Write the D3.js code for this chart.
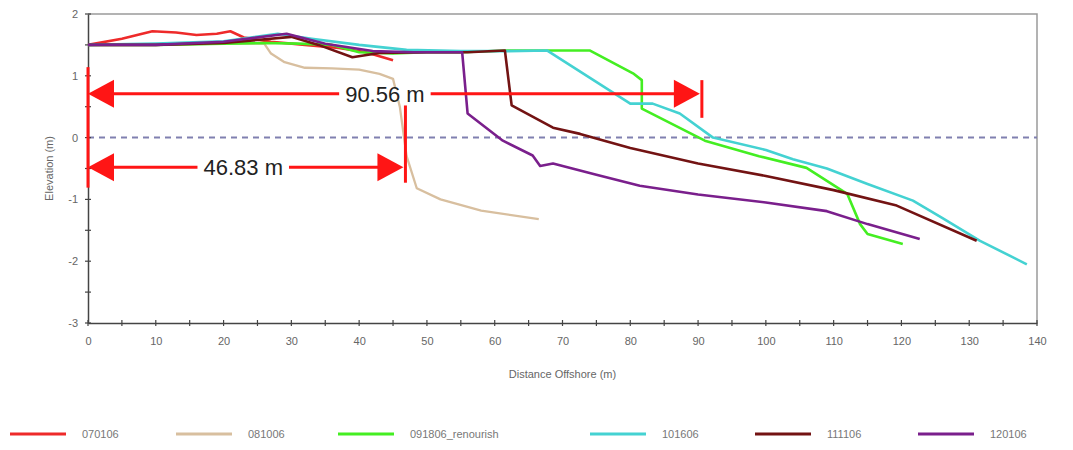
<!DOCTYPE html>
<html>
<head>
<meta charset="utf-8">
<script src="https://cdn.jsdelivr.net/npm/d3@7"></script>
<style>
  html, body { margin: 0; padding: 0; background: #fff; }
  svg { display: block; font-family: "Liberation Sans", Arial, sans-serif; }
</style>
</head>
<body>
<svg id="chart" width="1073" height="450"></svg>
<script>
// Beach profile surveys: [distance offshore (m), elevation (m)]
const survey070106 = [[0,1.5],[5,1.6],[9.5,1.72],[13,1.7],[16,1.66],[19,1.68],[21,1.72],[23,1.62],[27,1.55],[32,1.5],[37,1.45],[41,1.38],[45,1.25]];
const survey081006 = [[0,1.5],[10,1.5],[20,1.52],[26,1.52],[27,1.36],[29,1.22],[32,1.13],[36,1.12],[40,1.1],[43,1.03],[45,0.95],[46,0.5],[47,-0.3],[48.5,-0.82],[52,-1.0],[58,-1.18],[66.5,-1.32]];
const survey091806 = [[0,1.5],[10,1.5],[20,1.52],[26,1.53],[31,1.52],[36,1.5],[40,1.38],[45,1.36],[50,1.38],[55,1.38],[61.8,1.41],[74,1.41],[80.4,1.04],[81.7,0.93],[81.7,0.47],[91,-0.05],[99,-0.3],[106,-0.49],[112,-0.91],[113.9,-1.4],[115,-1.56],[120.2,-1.72]];
const survey101606 = [[0,1.5],[10,1.52],[20,1.56],[28,1.68],[33,1.6],[40,1.5],[47,1.42],[55,1.4],[62,1.4],[67.7,1.41],[80,0.55],[83.3,0.55],[87.3,0.39],[92.2,0.0],[100,-0.2],[104,-0.35],[109,-0.5],[115,-0.75],[121.7,-1.02],[126,-1.3],[131.6,-1.67],[138.5,-2.05]];
const survey111106 = [[0,1.5],[10,1.5],[20,1.53],[30,1.63],[34,1.5],[39,1.3],[43,1.37],[50,1.38],[56,1.38],[61.5,1.41],[62.5,0.52],[68.6,0.16],[72.6,0.06],[80,-0.17],[90,-0.42],[100,-0.62],[110,-0.85],[119.3,-1.1],[131.1,-1.67]];
const survey120106 = [[0,1.5],[10,1.5],[20,1.55],[29.3,1.68],[35,1.52],[42,1.4],[48,1.38],[55.2,1.38],[56,0.39],[61.2,-0.05],[65.6,-0.29],[66.7,-0.46],[68.6,-0.42],[75,-0.6],[81.4,-0.78],[90,-0.92],[100,-1.05],[109,-1.19],[115,-1.4],[122.7,-1.64]];

const seriesNames = ["070106", "081006", "091806_renourish", "101606", "111106", "120106"];
const seriesData = [survey070106, survey081006, survey091806, survey101606, survey111106, survey120106];
const seriesColors = ["#ee2a2a", "#d8bf9f", "#44ee22", "#44d2d2", "#731313", "#7a1f8c"];
const seriesWidths = [2.6, 2.3, 2.6, 2.6, 2.6, 2.6];

// Axis ticks
const xTicks = [0, 10, 20, 30, 40, 50, 60, 70, 80, 90, 100, 110, 120, 130, 140];
const xMinorTicks = d3.range(0, 141, 5);
const yTicks = [-3, -2, -1, 0, 1, 2];
const yMinorTicks = d3.range(-3, 2.01, 0.5);

// Shoreline distance measurements
const spanLabels = ["90.56 m", "46.83 m"];
const spanDistances = [90.56, 46.83];
const spanElevations = [0.71, -0.48];
const spanLabelCenters = [43.8, 22.9];
const spanBarTops = [0.93, 0.52];
const spanBarBottoms = [0.32, -0.73];

const svg = d3.select("#chart");
const plotLeft = 88, plotRight = 1037, plotTop = 14, plotBottom = 323;

const x = d3.scaleLinear().domain([0, 140]).range([plotLeft, plotRight]);
const y = d3.scaleLinear().domain([-3, 2]).range([plotBottom, plotTop]);

// Frame (top and right)
svg.append("path")
  .attr("d", `M${plotLeft},${plotTop}H${plotRight}V${plotBottom}`)
  .attr("fill", "none").attr("stroke", "#9a9a9a").attr("stroke-width", 1.5);

// Zero elevation reference
svg.append("line")
  .attr("x1", x(0)).attr("x2", x(140)).attr("y1", y(0)).attr("y2", y(0))
  .attr("stroke", "#8080b0").attr("stroke-width", 2).attr("stroke-dasharray", "6,5");

// Axes
const plainNumber = d => String(d);
const xAxis = d3.axisBottom(x).tickValues(xTicks).tickFormat(plainNumber).tickSize(0).tickPadding(14);
const yAxis = d3.axisLeft(y).tickValues(yTicks).tickFormat(plainNumber).tickSize(0).tickPadding(10);

const gx = svg.append("g").attr("transform", `translate(0,${plotBottom})`).call(xAxis);
const gy = svg.append("g").attr("transform", `translate(${plotLeft},0)`).call(yAxis);
[gx, gy].forEach(g => {
  g.select(".domain").attr("stroke", "#444").attr("stroke-width", 1.5);
  g.selectAll("text").attr("fill", "#666").style("font-size", "11px");
});

svg.append("g").selectAll("line").data(xMinorTicks).join("line")
  .attr("x1", d => x(d)).attr("x2", d => x(d))
  .attr("y1", plotBottom - 3).attr("y2", plotBottom + 3)
  .attr("stroke", "#444").attr("stroke-width", 1.2);
svg.append("g").selectAll("line").data(yMinorTicks).join("line")
  .attr("x1", plotLeft - 3).attr("x2", plotLeft + 3)
  .attr("y1", d => y(d)).attr("y2", d => y(d))
  .attr("stroke", "#444").attr("stroke-width", 1.2);

// Axis titles
svg.append("text")
  .attr("x", (plotLeft + plotRight) / 2).attr("y", 378)
  .attr("text-anchor", "middle").attr("fill", "#666").style("font-size", "11px")
  .text("Distance Offshore (m)");
svg.append("text")
  .attr("transform", `translate(53,${(plotTop + plotBottom) / 2}) rotate(-90)`)
  .attr("text-anchor", "middle").attr("fill", "#666").style("font-size", "11px")
  .text("Elevation (m)");

// Profile lines
const line = d3.line().x(d => x(d[0])).y(d => y(d[1]));
svg.append("g").selectAll("path").data(seriesData).join("path")
  .attr("d", line)
  .attr("fill", "none")
  .attr("stroke", (d, i) => seriesColors[i])
  .attr("stroke-width", (d, i) => seriesWidths[i])
  .attr("stroke-linejoin", "round");

// Distance measurement arrows
const red = "#ff1515";
const ann = svg.append("g");
ann.append("line")
  .attr("x1", x(0)).attr("x2", x(0)).attr("y1", y(1.14)).attr("y2", y(-0.81))
  .attr("stroke", red).attr("stroke-width", 3);

spanLabels.forEach((label, i) => {
  const yy = y(spanElevations[i]);
  const x0 = x(0), x1 = x(spanDistances[i]);
  ann.append("line")
    .attr("x1", x0 + 20).attr("x2", x1 - 20).attr("y1", yy).attr("y2", yy)
    .attr("stroke", red).attr("stroke-width", 3);
  ann.append("path")
    .attr("d", `M${x0},${yy}L${x0 + 26},${yy - 14}L${x0 + 26},${yy + 14}Z`)
    .attr("fill", red);
  ann.append("path")
    .attr("d", `M${x1 - 2},${yy}L${x1 - 28},${yy - 14}L${x1 - 28},${yy + 14}Z`)
    .attr("fill", red);
  ann.append("line")
    .attr("x1", x1).attr("x2", x1).attr("y1", y(spanBarTops[i])).attr("y2", y(spanBarBottoms[i]))
    .attr("stroke", red).attr("stroke-width", 3);
  const t = ann.append("text")
    .attr("x", x(spanLabelCenters[i])).attr("y", yy)
    .attr("dy", "0.36em").attr("text-anchor", "middle")
    .attr("fill", "#222").style("font-size", "22px")
    .text(label);
  const bb = t.node().getBBox();
  ann.insert("rect", function () { return t.node(); })
    .attr("x", bb.x - 6).attr("y", yy - 6).attr("width", bb.width + 12).attr("height", 12)
    .attr("fill", "#fff");
});

// Legend
const legendX = [10, 176, 338, 590, 755, 918];
const legend = svg.append("g");
seriesNames.forEach((name, i) => {
  legend.append("line")
    .attr("x1", legendX[i]).attr("x2", legendX[i] + 56)
    .attr("y1", 434).attr("y2", 434)
    .attr("stroke", seriesColors[i]).attr("stroke-width", 3);
  legend.append("text")
    .attr("x", legendX[i] + 72).attr("y", 434).attr("dy", "0.35em")
    .attr("fill", "#777").style("font-size", "11px")
    .text(name);
});
</script>
</body>
</html>
